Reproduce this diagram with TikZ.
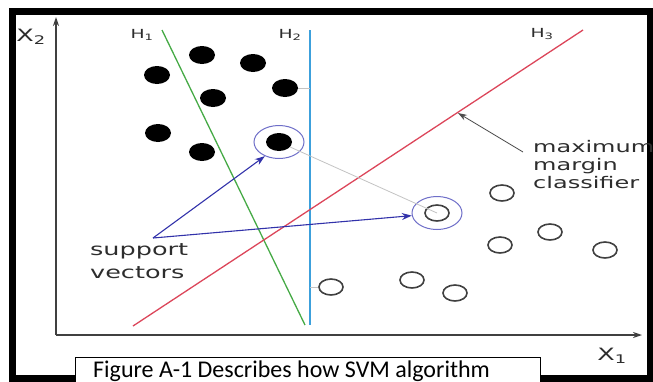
\documentclass[tikz,border=0pt]{standalone}
\usepackage{fontspec}
\usetikzlibrary{shapes.geometric,arrows.meta}
\newfontfamily\labelfont[FakeStretch=1.5]{DejaVu Sans}
\newfontfamily\captionfont{Carlito}
\definecolor{textgray}{RGB}{45,45,45}
\definecolor{hgreen}{RGB}{70,170,70}
\definecolor{hblue}{RGB}{60,160,220}
\definecolor{hred}{RGB}{220,70,90}
\definecolor{ringblue}{RGB}{110,110,200}
\definecolor{arrowblue}{RGB}{50,50,170}
\definecolor{linkgray}{RGB}{195,195,195}
\begin{document}
\begin{tikzpicture}
[x=1pt,y=-1pt,
  blackdot/.style={shape=ellipse,fill=black,minimum width=26pt,minimum height=18pt,inner sep=0pt},%
  whitedot/.style={shape=ellipse,draw=black!75,line width=1.6pt,minimum width=24pt,minimum height=16pt,inner sep=0pt},%
  ringdecorate/.style={shape=ellipse,draw=ringblue,line width=1pt,minimum width=50pt,minimum height=33pt,inner sep=0pt},%
  axisdecorate/.style={line width=1.3pt,black!75,-{Stealth[length=9pt,width=6pt]}},%
  planedecorate/.style={line width=1.3pt},%
  linkdecorate/.style={line width=0.8pt,linkgray},%
  svarrow/.style={line width=1.1pt,arrowblue,-{Stealth[length=10pt,width=7pt]}},%
  markarrow/.style={line width=0.8pt,black!70,-{Stealth[length=9pt,width=6pt]}},%
  labeltext/.style={text=textgray,inner sep=0pt}]
\useasboundingbox (0,0) rectangle (653,381);
%% outer frame
\draw[line width=7pt] (12,11.5) rectangle (650,378);
%% axes
\coordinate (origin) at (56,335);
\coordinate (ytip) at (56,17);
\coordinate (xtip) at (642,335);
\draw[axisdecorate] (origin) -- (ytip);
\draw[axisdecorate] (origin) -- (xtip);
\node (xtwo) at (31,37) [labeltext,font=\labelfont\fontsize{17}{20}\selectfont] {X\textsubscript{2}};
\node (xone) at (612,356) [labeltext,font=\labelfont\fontsize{17}{20}\selectfont] {X\textsubscript{1}};
%% hyperplanes
\coordinate (h1top) at (162,30);
\coordinate (h1bot) at (305,325);
\coordinate (h2top) at (310,30);
\coordinate (h2bot) at (310,325);
\coordinate (h3top) at (583,30);
\coordinate (h3bot) at (133,326);
\draw[planedecorate,hgreen] (h1top) -- (h1bot);
\draw[planedecorate,hblue] (h2top) -- (h2bot);
\draw[planedecorate,hred] (h3top) -- (h3bot);
\foreach \nodename/\x/\y/\num in {hone/142/35/1, htwo/290/35/2, hthree/542/34/3} {
  \node (\nodename) at (\x,\y) [labeltext,font=\labelfont\fontsize{12.5}{14}\selectfont] {H\textsubscript{\num}};
}
%% data points
\foreach \nodename/\x/\y in {
  b1/202/55, b2/253/63, b3/157/75, b4/213/98, b5/285/88, b6/158/133, b7/202/152, b8/279/142} {
  \node (\nodename) at (\x,\y) [blackdot] {};
}
\foreach \nodename/\x/\y in {
  w1/502/193, w2/437/213, w3/500/245, w4/550/232, w5/605/250, w6/331/287, w7/412/280, w8/455/293} {
  \node (\nodename) at (\x,\y) [whitedot] {};
}
%% support vector rings
\node (svb) at (b8) [ringdecorate] {};
\node (svw) at (w2) [ringdecorate] {};
%% thin links
\draw[linkdecorate] (b5) -- (b5 -| h2top);
\draw[linkdecorate] (w6) -- (w6 -| h2top);
\draw[linkdecorate] (b8) -- (w2.center);
%% labels and arrows
\node (mmlabel) at (533,140) [labeltext,anchor=north west,align=left,font=\labelfont\fontsize{16}{18}\selectfont] {maximum\\margin\\classifier};
\coordinate (mmfoot) at (523,152);
\coordinate (h3mark) at (458,113);
\draw[markarrow] (mmfoot) -- (h3mark);
\node (svlabel) at (90,243) [labeltext,anchor=north west,align=left,font=\labelfont\fontsize{17}{23}\selectfont] {support\\vectors};
\coordinate (svapex) at (153,238);
\draw[svarrow] (svapex) -- (svb.225);
\draw[svarrow] (svapex) -- (svw.186);
%% caption
\draw[fill=white,line width=0.8pt] (75,357) rectangle (540,395);
\node (caption) at (93,377) [anchor=base west,inner sep=0pt,font=\captionfont\fontsize{24}{28}\selectfont] {Figure A-1 Describes how SVM algorithm};
\end{tikzpicture}
\end{document}
